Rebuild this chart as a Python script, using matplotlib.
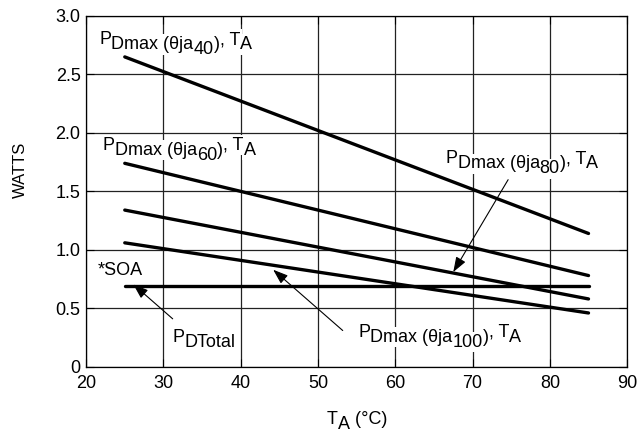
import matplotlib
matplotlib.use("Agg")
import matplotlib.pyplot as plt

# ambient temperature endpoints and derating values
temps = [25, 85]
pd_ja40 = [2.65, 1.14]
pd_ja60 = [1.74, 0.78]
pd_ja80 = [1.34, 0.58]
pd_ja100 = [1.06, 0.46]
pd_total = [0.69, 0.69]

x_ticks = [20, 30, 40, 50, 60, 70, 80, 90]
y_ticks = [0, 0.5, 1.0, 1.5, 2.0, 2.5, 3.0]
y_tick_labels = ["0", "0.5", "1.0", "1.5", "2.0", "2.5", "3.0"]

plt.rcParams['font.family'] = ['Liberation Sans Narrow', 'Liberation Sans', 'DejaVu Sans']
plt.rcParams['font.size'] = 13

DROP = 3.6  # how far a "subscript" piece sits below the base line, in points


def staggered(ax, x, y, pieces, transform=None):
    # draw text pieces one after another, each on its own base line
    # first pass: white boxes to break the grid, second pass: the text
    if transform is None:
        transform = ax.transData
    for white in (True, False):
        kw = dict(color='white', bbox=dict(facecolor='white', edgecolor='none', pad=1.2)) if white \
            else dict(color='black')
        z = 2 if white else 2.1
        t = ax.text(x, y, pieces[0][0], va='baseline', transform=transform, zorder=z, **kw)
        prev = pieces[0][1]
        for s, level in pieces[1:]:
            t = ax.annotate(s, xy=(1, 0), xycoords=t, xytext=(0, (prev - level) * DROP),
                            textcoords='offset points', va='bottom', zorder=z,
                            annotation_clip=False, **kw)
            prev = level


def pdmax_label(ax, x, y, ja):
    staggered(ax, x, y, [("P", 0), ("Dmax (θja", 1), (ja, 2), (")", 1), (", T", 0), ("A", 1)])


fig = plt.figure(figsize=(6.38, 4.32), dpi=100)
ax = fig.add_axes([0.135, 0.151, 0.848, 0.812])

for vals in (pd_ja40, pd_ja60, pd_ja80, pd_ja100, pd_total):
    ax.plot(temps, vals, color='black', lw=2.4, solid_capstyle='round', zorder=3)

ax.set_xlim(20, 90)
ax.set_ylim(0, 3.0)
ax.set_xticks(x_ticks)
ax.set_yticks(y_ticks)
ax.set_yticklabels(y_tick_labels)
ax.grid(True, color='#222222', lw=0.9)
ax.set_axisbelow(True)
ax.tick_params(direction='in', length=6, top=True, right=True)
ax.tick_params(axis='x', pad=6)
ax.tick_params(axis='y', pad=4)
for s in ax.spines.values():
    s.set_linewidth(0.9)

ax.set_ylabel("WATTS", family=['Liberation Sans', 'DejaVu Sans'], fontsize=12)
ax.yaxis.set_label_coords(-0.107, 0.56)
staggered(ax, 0.445, -0.163, [("T", 0), ("A", 1), (" (°C)", 0)], transform=ax.transAxes)

pdmax_label(ax, 21.7, 2.76, "40")
pdmax_label(ax, 22.15, 1.855, "60")
pdmax_label(ax, 66.5, 1.74, "80")
pdmax_label(ax, 55.2, 0.257, "100")
staggered(ax, 21.55, 0.787, [("*SOA", 0)])
staggered(ax, 31.2, 0.214, [("P", 0), ("DTotal", 1)])

arrow = dict(arrowstyle='-|>,head_length=0.7,head_width=0.25', color='black', lw=0.8, shrinkA=0, shrinkB=0)
ax.annotate("", xy=(67.5, 0.81), xytext=(74.6, 1.60), arrowprops=arrow, zorder=4)
ax.annotate("", xy=(44.2, 0.83), xytext=(53.2, 0.31), arrowprops=arrow, zorder=4)
ax.annotate("", xy=(26.1, 0.705), xytext=(31.2, 0.41), arrowprops=arrow, zorder=4)

fig.savefig("out.png", dpi=100)
